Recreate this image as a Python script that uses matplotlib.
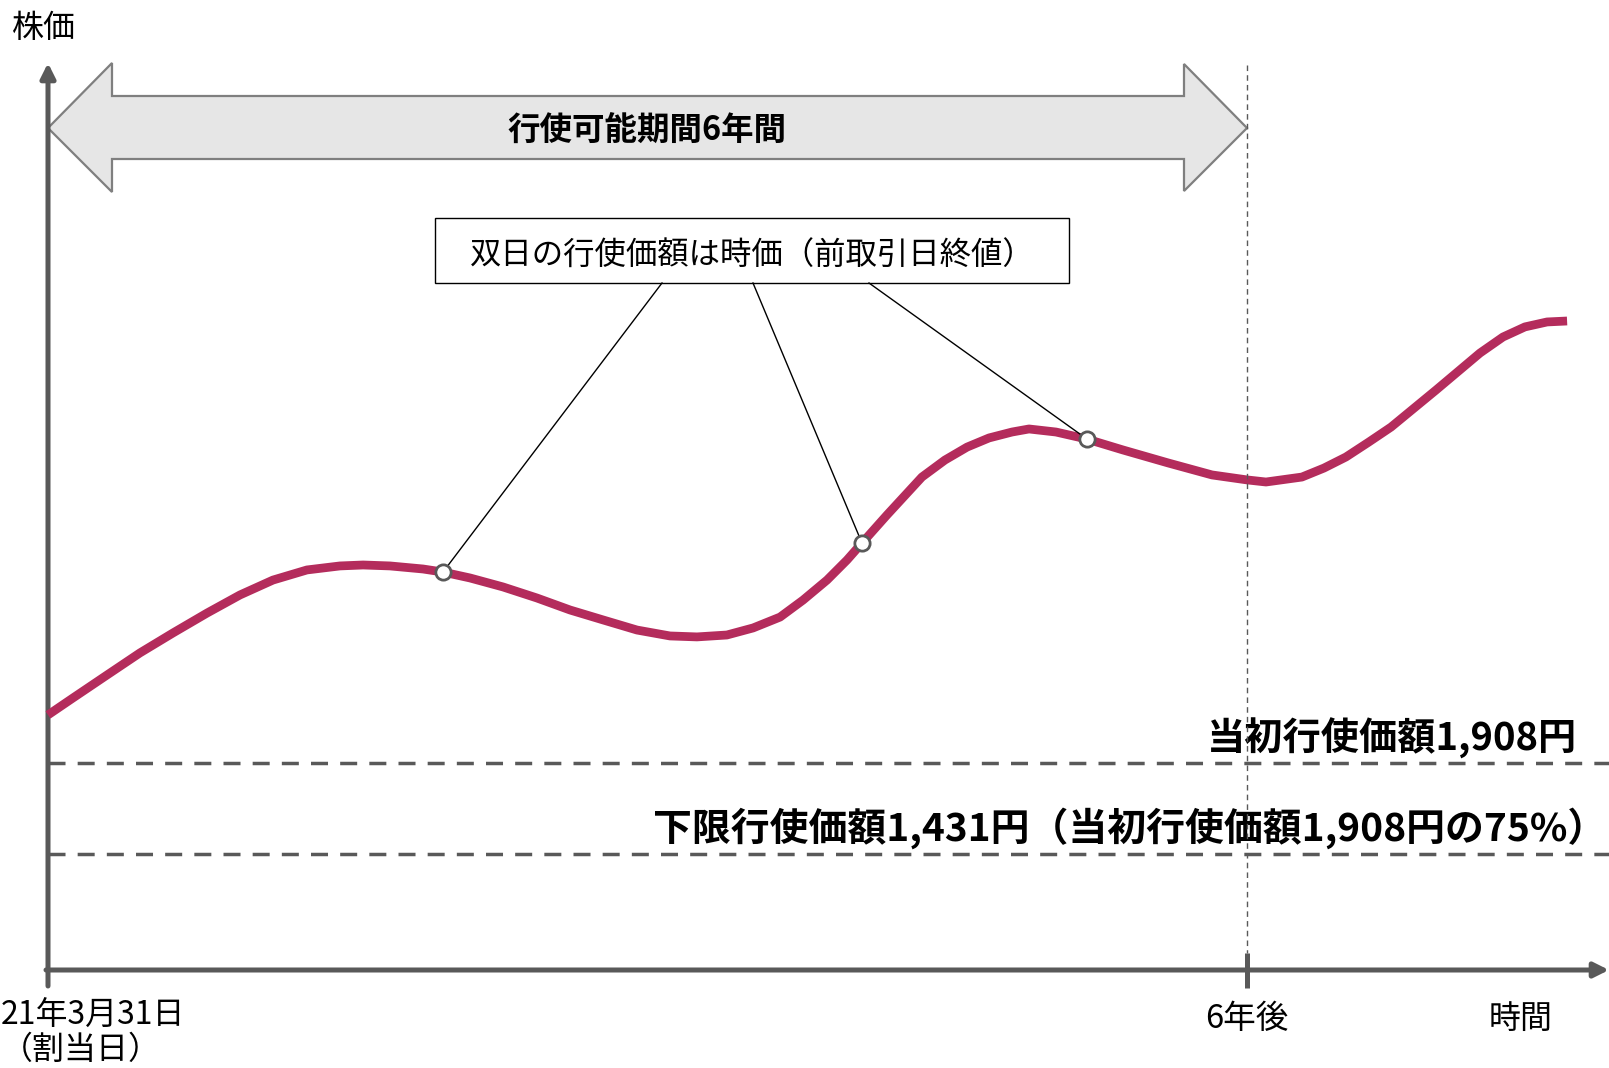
import matplotlib
matplotlib.use("Agg")
import matplotlib.pyplot as plt
from matplotlib.patches import Polygon, Rectangle

plt.rcParams['font.family'] = ['Noto Sans CJK JP', 'DejaVu Sans']

# stock price path (years after grant, yen)
years = [0.000, 0.125, 0.295, 0.460, 0.626, 0.796, 0.961, 1.126, 1.296, 1.461,
         1.577, 1.712, 1.877, 1.977, 2.112, 2.277, 2.447, 2.613, 2.778, 2.948,
         3.113, 3.248, 3.398, 3.529, 3.664, 3.779, 3.899, 3.999, 4.074, 4.199,
         4.374, 4.489, 4.600, 4.710, 4.825, 4.910, 5.045, 5.200, 5.380, 5.606,
         5.826, 6.001, 6.096, 6.276, 6.386, 6.496, 6.610, 6.722, 6.947, 7.167,
         7.282, 7.392, 7.503, 7.603]
price = [2160, 2249, 2369, 2485, 2590, 2694, 2789, 2867, 2920, 2941,
         2946, 2941, 2925, 2909, 2878, 2831, 2773, 2710, 2658, 2605,
         2574, 2569, 2579, 2616, 2673, 2762, 2867, 2972, 3061, 3208,
         3407, 3496, 3564, 3612, 3643, 3659, 3643, 3606, 3549, 3481,
         3418, 3392, 3381, 3407, 3454, 3512, 3590, 3669, 3863, 4057,
         4141, 4194, 4220, 4225]
# days where the exercise price is taken from the market
point_years = [1.977, 4.074, 5.200]
point_price = [2909, 3061, 3606]

initial_price = 1908
floor_price = 1431
period_years = 6

label_initial = "当初行使価額1,908円"
label_floor = "下限行使価額1,431円（当初行使価額1,908円の75%）"
label_period = "行使可能期間6年間"
label_callout = "双日の行使価額は時価（前取引日終値）"
label_y = "株価"
label_x = "時間"
label_start = "21年3月31日\n（割当日）"
label_end = "6年後"

# pixel -> data helpers for the layout (axes fills the whole figure)
PXY = 199.8   # px per year
YPP = 5.242   # yen per px
def X(px):
    return (px - 48) / PXY
def Y(py):
    return floor_price + (854 - py) * YPP

fig = plt.figure(figsize=(16.09, 10.68), dpi=100)
ax = fig.add_axes([0, 0, 1, 1])
ax.set_xlim(X(0), X(1609))
ax.set_ylim(Y(1068), Y(0))
ax.axis('off')

axc = '#595959'

# axes arrows
ax.annotate("", xy=(X(48), Y(63)), xytext=(X(48), Y(986)),
            arrowprops=dict(arrowstyle='-|>', lw=3.6, color=axc, shrinkA=0, shrinkB=0,
                            mutation_scale=22))
ax.annotate("", xy=(X(1609), Y(970)), xytext=(X(46), Y(970)),
            arrowprops=dict(arrowstyle='-|>', lw=3.6, color=axc, shrinkA=0, shrinkB=0,
                            mutation_scale=22))
ax.plot([period_years, period_years], [Y(953), Y(988)], color=axc, lw=3.6,
        solid_capstyle='butt')

# 6-year marker
ax.plot([period_years, period_years], [Y(65), Y(953)], color=axc, lw=1,
        linestyle=(0, (4, 3)), zorder=6)

# exercise price levels
for p in [initial_price, floor_price]:
    ax.plot([X(48), X(1609)], [p, p], color=axc, lw=2.5, linestyle=(0, (4.9, 3.5)))
ax.text(X(1577), initial_price + 25 * YPP, label_initial, ha='right', va='center',
        fontsize=27.5, fontweight='bold')
ax.text(X(1606), floor_price + 26 * YPP, label_floor, ha='right', va='center',
        fontsize=28, fontweight='bold')

# exercise period double arrow
arrow = [(X(48), Y(128)), (X(112), Y(63)), (X(112), Y(96)), (X(1184), Y(96)),
         (X(1184), Y(64)), (X(1247), Y(128)), (X(1184), Y(191)), (X(1184), Y(159)),
         (X(112), Y(159)), (X(112), Y(192))]
ax.add_patch(Polygon(arrow, closed=True, facecolor='#e6e6e6', edgecolor='#7f7f7f', lw=1.6))
ax.text(X(647), Y(131), label_period, ha='center', va='center', fontsize=23.4,
        fontweight='bold')

# price path
ax.plot(years, price, color='#b42c5c', lw=6.3, solid_joinstyle='round',
        solid_capstyle='butt', zorder=3)

# callout box with leader lines
ax.add_patch(Rectangle((X(435), Y(283)), X(1069) - X(435), Y(218) - Y(283),
                       facecolor='white', edgecolor='black', lw=1, zorder=4))
ax.text(X(752), Y(256), label_callout, ha='center', va='center', fontsize=22.6, zorder=5)
for sx, px_, py_ in zip([662, 753, 869], point_years, point_price):
    ax.plot([X(sx), px_], [Y(283), py_], color='black', lw=1, zorder=4)
ax.plot(point_years, point_price, 'o', ms=11, mfc='white', mec=axc, mew=2, zorder=5)

# axis labels
ax.text(X(12), Y(28), label_y, ha='left', va='center', fontsize=23)
ax.text(X(1521), Y(1019), label_x, ha='center', va='center', fontsize=23)
ax.text(period_years, Y(1019), label_end, ha='center', va='center', fontsize=23.5)
ax.text(X(1), Y(1066), label_start, ha='left', va='bottom', fontsize=23,
        linespacing=1.1)

fig.savefig("out.png", dpi=100)
